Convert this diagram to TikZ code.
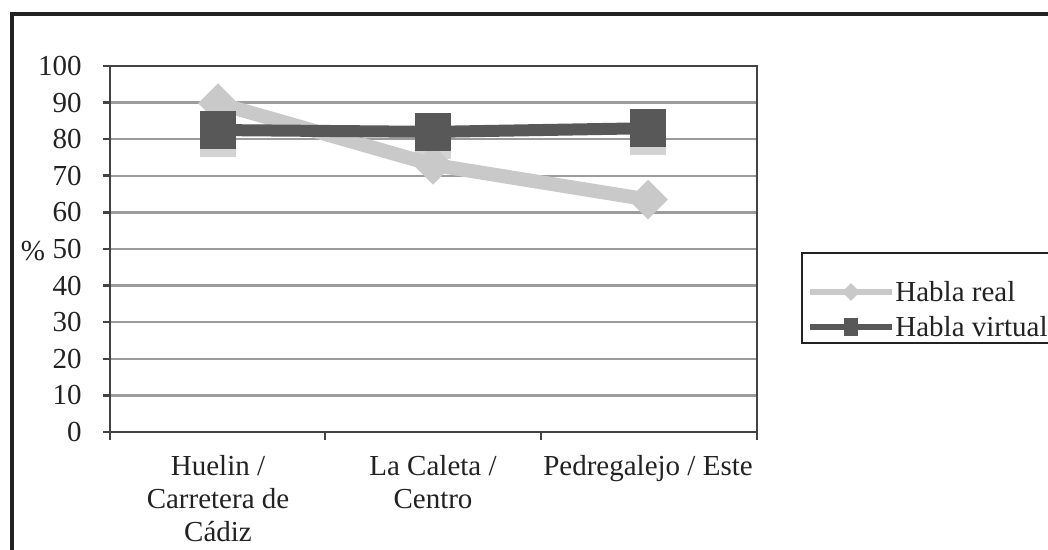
\documentclass[tikz,border=0pt]{standalone}
\usepackage{fontspec}
\setmainfont{Liberation Serif}
\usetikzlibrary{shapes.geometric,shadows}
\definecolor{real}{HTML}{C9C9C9}
\definecolor{virtual}{HTML}{585858}
\definecolor{gridgray}{HTML}{9C9C9C}
\definecolor{ink}{HTML}{222222}
\tikzset{>=stealth,
  lbl/.style={font=\fontsize{14.5}{16.5}\selectfont, text=ink, inner sep=0pt},
  axis/.style={ink!85, line width=1.3pt},
  gridline/.style={gridgray, line width=1.2pt},
  realline/.style={real, line width=7pt, line join=round},
  virtline/.style={virtual, line width=6pt},
  realmark/.style={diamond, fill=real, minimum size=20pt, inner sep=0pt},
  virtmark/.style={rectangle, fill=virtual, minimum width=18pt, minimum height=19pt, inner sep=0pt,
    drop shadow={shadow xshift=0pt, shadow yshift=-4pt, fill=real, opacity=0.8}}}

\begin{document}
\begin{tikzpicture}[x=0.5pt, y=-0.5pt]
\useasboundingbox (0,0) rectangle (1048,550);
\fill[white] (0,0) rectangle (1048,550);
\draw[ink, line width=1.6pt] (12,620) -- (12,14) -- (1100,14);
\node[lbl] (pct) at (33,251) {\%};
\begin{scope}[shift={(110,432)}, y=1.83pt]
  \foreach \v in {10,20,...,90}
    \draw[gridline] (0,\v) -- (647,\v);
  \foreach \v in {0,10,...,100} {
    \draw[axis] (-7,\v) -- (0,\v);
    \node[lbl, anchor=east] (t\v) at (-28,\v) {\v};
  }
  \draw[axis] (0,0) rectangle (647,100);
  \foreach \x in {0,215,431,647}
    \draw[axis] (\x,0) -- (\x,-2.2);
  \coordinate (r1) at (108,89.8);
  \coordinate (r2) at (323,73);
  \coordinate (r3) at (538,63.5);
  \coordinate (v1) at (108,82.5);
  \coordinate (v2) at (323,82);
  \coordinate (v3) at (538,83);
  \draw[realline] (r1) -- (r2) -- (r3);
  \foreach \p in {r1,r2,r3}
    \node[realmark] (m\p) at (\p) {};
  \draw[virtline] (v1) -- (v2) -- (v3);
  \foreach \p in {v1,v2,v3}
    \node[virtmark] (m\p) at (\p) {};
  \node[lbl, anchor=north, align=center] (c1) at (108,-6.3) {Huelin /\\Carretera de\\Cádiz};
  \node[lbl, anchor=north, align=center] (c2) at (323,-6.3) {La Caleta /\\Centro};
  \node[lbl, anchor=north, align=center] (c3) at (538,-6.3) {Pedregalejo / Este};
\end{scope}
\draw[ink, line width=1.3pt] (802,253) rectangle (1110,343);
\coordinate (la) at (810,292);
\coordinate (lb) at (892,292);
\coordinate (lc) at (810,327);
\coordinate (ld) at (892,327);
\draw[real, line width=3pt] (la) -- (lb);
\node[diamond, fill=real, minimum size=9pt, inner sep=0pt] (lr) at (851,292) {};
\draw[virtual, line width=3pt] (lc) -- (ld);
\node[rectangle, fill=virtual, minimum width=7pt, minimum height=9pt, inner sep=0pt] (lv) at (851,327) {};
\node[lbl, anchor=west] (lrt) at (895,292) {Habla real};
\node[lbl, anchor=west] (lvt) at (895,327) {Habla virtual};
\end{tikzpicture}
\end{document}
